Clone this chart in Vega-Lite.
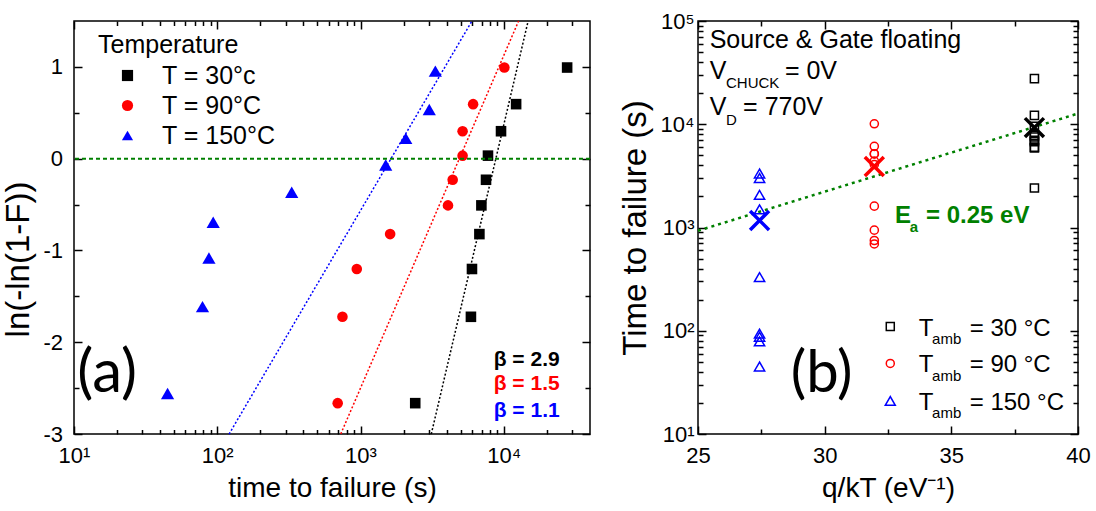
{
  "$schema": "https://vega.github.io/schema/vega-lite/v6.json",
  "padding": {"left": 2, "top": 9, "right": 5, "bottom": 5},
  "background": "white",
  "config": {
    "font": "Liberation Sans",
    "view": {"stroke": "black", "strokeWidth": 1.5},
    "axis": {"domain": false, "grid": false, "tickColor": "black", "tickWidth": 1.5, "labelColor": "black", "labelFont": "Liberation Sans", "labelFontSize": 22, "titleFont": "Liberation Sans", "titleFontSize": 28, "titleFontWeight": "normal", "titleColor": "black", "labelFlush": false, "labelOverlap": false},
    "legend": {"titleFontSize": 25, "titleFontWeight": "normal", "titleColor": "black", "titleFont": "Liberation Sans", "labelFontSize": 25, "labelFont": "Liberation Sans", "labelColor": "black", "symbolSize": 125, "symbolOffset": 17, "labelOffset": 22, "rowPadding": 4, "titlePadding": 5, "symbolStrokeWidth": 0}
  },
  "datasets": {
    "ttf": [
      {"T": "T = 30°c", "q": 38.28, "t": 27700, "w": 0.993},
      {"T": "T = 30°c", "q": 38.28, "t": 12200, "w": 0.594},
      {"T": "T = 30°c", "q": 38.28, "t": 9570, "w": 0.299},
      {"T": "T = 30°c", "q": 38.28, "t": 7760, "w": 0.033},
      {"T": "T = 30°c", "q": 38.28, "t": 7520, "w": -0.230},
      {"T": "T = 30°c", "q": 38.28, "t": 6980, "w": -0.509},
      {"T": "T = 30°c", "q": 38.28, "t": 6760, "w": -0.822},
      {"T": "T = 30°c", "q": 38.28, "t": 6000, "w": -1.202},
      {"T": "T = 30°c", "q": 38.28, "t": 5900, "w": -1.723},
      {"T": "T = 30°c", "q": 38.28, "t": 2410, "w": -2.664},
      {"T": "T = 90°C", "q": 31.96, "t": 10100, "w": 0.993},
      {"T": "T = 90°C", "q": 31.96, "t": 6110, "w": 0.594},
      {"T": "T = 90°C", "q": 31.96, "t": 5160, "w": 0.299},
      {"T": "T = 90°C", "q": 31.96, "t": 5160, "w": 0.033},
      {"T": "T = 90°C", "q": 31.96, "t": 4400, "w": -0.230},
      {"T": "T = 90°C", "q": 31.96, "t": 4080, "w": -0.509},
      {"T": "T = 90°C", "q": 31.96, "t": 1610, "w": -0.822},
      {"T": "T = 90°C", "q": 31.96, "t": 942, "w": -1.202},
      {"T": "T = 90°C", "q": 31.96, "t": 748, "w": -1.723},
      {"T": "T = 90°C", "q": 31.96, "t": 693, "w": -2.664},
      {"T": "T = 150°C", "q": 27.43, "t": 3330, "w": 0.954},
      {"T": "T = 150°C", "q": 27.43, "t": 3020, "w": 0.536},
      {"T": "T = 150°C", "q": 27.43, "t": 2070, "w": 0.221},
      {"T": "T = 150°C", "q": 27.43, "t": 1500, "w": -0.070},
      {"T": "T = 150°C", "q": 27.43, "t": 331, "w": -0.367},
      {"T": "T = 150°C", "q": 27.43, "t": 93.7, "w": -0.693},
      {"T": "T = 150°C", "q": 27.43, "t": 87.5, "w": -1.083},
      {"T": "T = 150°C", "q": 27.43, "t": 78.9, "w": -1.612},
      {"T": "T = 150°C", "q": 27.43, "t": 45, "w": -2.559}
    ],
    "fits": [
      {"T": "T = 30°c", "t": 3120, "w": -3},
      {"T": "T = 30°c", "t": 14800, "w": 1.5},
      {"T": "T = 90°C", "t": 728, "w": -3},
      {"T": "T = 90°C", "t": 12700, "w": 1.5},
      {"T": "T = 150°C", "t": 121, "w": -3},
      {"T": "T = 150°C", "t": 6000, "w": 1.5}
    ],
    "means": [
      {"T": "T = 30°c", "q": 38.28, "t": 9280},
      {"T": "T = 90°C", "q": 31.96, "t": 3900},
      {"T": "T = 150°C", "q": 27.43, "t": 1170}
    ],
    "arr": [
      {"q": 25, "t": 930},
      {"q": 40, "t": 12700}
    ],
    "one": [{}]
  },
  "resolve": {"scale": {"x": "independent", "y": "independent", "color": "independent", "shape": "independent", "stroke": "independent"}},
  "bounds": "flush",
  "spacing": 108,
  "hconcat": [
    {
      "width": 516,
      "height": 413,
      "layer": [
        {
          "data": {"name": "ttf"},
          "transform": [{"filter": "datum.T != 'T = 150°C'"}],
          "mark": {"type": "point", "filled": true, "opacity": 1, "size": 112},
          "encoding": {
            "x": {"field": "t", "type": "quantitative", "scale": {"type": "log", "domain": [10, 40000], "nice": false}, "axis": {"orient": "bottom", "values": [10, 100, 1000, 10000], "tickSize": -8, "labelPadding": 19, "labelExpr": "'10' + (datum.value < 50 ? '¹' : datum.value < 500 ? '²' : datum.value < 5000 ? '³' : '⁴')", "title": "time to failure (s)", "titlePadding": 8}},
            "y": {"field": "w", "type": "quantitative", "scale": {"domain": [-3, 1.5], "nice": false, "zero": false}, "axis": {"orient": "left", "values": [-3,-2,-1,0,1], "tickSize": -8, "labelPadding": 19.5, "labelExpr": "'' + datum.value", "title": "ln(-ln(1-F))", "titleFontSize": 33, "titleY": 238, "titlePadding": 7}},
            "color": {"field": "T", "type": "nominal", "scale": {"domain": ["T = 30°c", "T = 90°C", "T = 150°C"], "range": ["#000000", "#ff0000", "#0000ff"]}, "legend": {"title": "Temperature", "orient": "none", "legendX": 24, "legendY": 12}},
            "shape": {"field": "T", "type": "nominal", "scale": {"domain": ["T = 30°c", "T = 90°C", "T = 150°C"], "range": ["square", "circle", "triangle-up"]}, "legend": {"title": "Temperature", "orient": "none", "legendX": 24, "legendY": 12}}
          }
        },
        {
          "data": {"name": "ttf"},
          "transform": [{"filter": "datum.T == 'T = 150°C'"}],
          "mark": {"type": "point", "filled": true, "opacity": 1, "size": 175},
          "encoding": {
            "x": {"field": "t", "type": "quantitative", "scale": {"type": "log", "domain": [10, 40000], "nice": false}, "axis": null},
            "y": {"field": "w", "type": "quantitative", "scale": {"domain": [-3, 1.5], "nice": false, "zero": false}, "axis": null},
            "color": {"field": "T", "type": "nominal", "scale": {"domain": ["T = 30°c", "T = 90°C", "T = 150°C"], "range": ["#000000", "#ff0000", "#0000ff"]}},
            "shape": {"field": "T", "type": "nominal", "scale": {"domain": ["T = 30°c", "T = 90°C", "T = 150°C"], "range": ["square", "circle", "triangle-up"]}}
          }
        },
        {
          "data": {"name": "fits"},
          "mark": {"type": "line", "strokeDash": [2, 2], "strokeWidth": 1.5},
          "encoding": {
            "x": {"field": "t", "type": "quantitative", "scale": {"type": "log", "domain": [10, 40000], "nice": false}, "axis": {"orient": "bottom", "values": [20,30,40,50,60,70,80,90,200,300,400,500,600,700,800,900,2000,3000,4000,5000,6000,7000,8000,9000,20000,30000], "tickSize": -4.5, "labels": false, "title": null}},
            "y": {"field": "w", "type": "quantitative", "scale": {"domain": [-3, 1.5], "nice": false, "zero": false}, "axis": {"orient": "left", "values": [-2.5,-1.5,-0.5,0.5], "tickSize": -5, "labels": false, "title": null}},
            "stroke": {"field": "T", "type": "nominal", "scale": {"domain": ["T = 30°c", "T = 90°C", "T = 150°C"], "range": ["#000000", "#ff0000", "#0000ff"]}, "legend": null}
          }
        },
        {
          "data": {"name": "one"},
          "mark": {"type": "rule", "color": "#008000", "strokeDash": [4, 3], "strokeWidth": 2},
          "encoding": {
            "y": {"datum": 0, "type": "quantitative", "scale": {"domain": [-3, 1.5], "nice": false, "zero": false}, "axis": {"orient": "right", "values": [-3,-2,-1,0,1], "tickSize": -8, "labels": false, "title": null}}
          }
        },
        {
          "data": {"name": "one"},
          "mark": {"type": "text", "text": "(a)", "font": "Lato", "fontSize": 60, "align": "left", "baseline": "alphabetic", "color": "black"},
          "encoding": {
            "x": {"datum": 10.55, "type": "quantitative", "scale": {"type": "log", "domain": [10, 40000], "nice": false}, "axis": {"orient": "top", "values": [10, 100, 1000, 10000], "tickSize": -8, "labels": false, "title": null}},
            "y": {"datum": -2.54, "type": "quantitative", "scale": {"domain": [-3, 1.5], "nice": false, "zero": false}, "axis": {"orient": "right", "values": [-2.5,-1.5,-0.5,0.5], "tickSize": -5, "labels": false, "title": null}}
          }
        },
        {
          "data": {"name": "one"},
          "mark": {"type": "text", "text": "β = 2.9", "fontSize": 21, "fontWeight": "bold", "align": "left", "baseline": "alphabetic", "color": "black"},
          "encoding": {
            "x": {"datum": 8510, "type": "quantitative", "scale": {"type": "log", "domain": [10, 40000], "nice": false}, "axis": {"orient": "top", "values": [20,30,40,50,60,70,80,90,200,300,400,500,600,700,800,900,2000,3000,4000,5000,6000,7000,8000,9000,20000,30000], "tickSize": -4.5, "labels": false, "title": null}},
            "y": {"datum": -2.26, "type": "quantitative", "scale": {"domain": [-3, 1.5], "nice": false, "zero": false}, "axis": null}
          }
        },
        {
          "data": {"name": "one"},
          "mark": {"type": "text", "text": "β = 1.5", "fontSize": 21, "fontWeight": "bold", "align": "left", "baseline": "alphabetic", "color": "#ff0000"},
          "encoding": {
            "x": {"datum": 8510, "type": "quantitative", "scale": {"type": "log", "domain": [10, 40000], "nice": false}, "axis": null},
            "y": {"datum": -2.52, "type": "quantitative", "scale": {"domain": [-3, 1.5], "nice": false, "zero": false}, "axis": null}
          }
        },
        {
          "data": {"name": "one"},
          "mark": {"type": "text", "text": "β = 1.1", "fontSize": 21, "fontWeight": "bold", "align": "left", "baseline": "alphabetic", "color": "#0000ff"},
          "encoding": {
            "x": {"datum": 8510, "type": "quantitative", "scale": {"type": "log", "domain": [10, 40000], "nice": false}, "axis": null},
            "y": {"datum": -2.81, "type": "quantitative", "scale": {"domain": [-3, 1.5], "nice": false, "zero": false}, "axis": null}
          }
        }
      ]
    },
    {
      "width": 380,
      "height": 413,
      "layer": [
        {
          "data": {"name": "arr"},
          "mark": {"type": "line", "color": "#008000", "strokeDash": [3, 4], "strokeWidth": 2.5},
          "encoding": {
            "x": {"field": "q", "type": "quantitative", "scale": {"domain": [25, 40], "nice": false, "zero": false}, "axis": {"orient": "bottom", "values": [25, 30, 35, 40], "tickSize": -8, "labelPadding": 19, "title": "q/kT (eV⁻¹)", "titlePadding": 8}},
            "y": {"field": "t", "type": "quantitative", "scale": {"type": "log", "domain": [10, 100000], "nice": false}, "axis": {"orient": "left", "values": [10, 100, 1000, 10000, 100000], "tickSize": -8, "labelPadding": 12, "labelExpr": "'10' + ['⁰','¹','²','³','⁴','⁵'][round(log(datum.value)/LN10)]", "title": "Time to failure (s)", "titleFontSize": 33, "titlePadding": 8}}
          }
        },
        {
          "data": {"name": "ttf"},
          "transform": [{"filter": "datum.T != 'T = 150°C'"}],
          "mark": {"type": "point", "filled": false, "opacity": 1, "strokeWidth": 1.5, "size": 66},
          "encoding": {
            "x": {"field": "q", "type": "quantitative", "scale": {"domain": [25, 40], "nice": false, "zero": false}, "axis": {"orient": "bottom", "values": [27.5, 32.5, 37.5], "tickSize": -5, "labels": false, "title": null}},
            "y": {"field": "t", "type": "quantitative", "scale": {"type": "log", "domain": [10, 100000], "nice": false}, "axis": {"orient": "left", "values": [20,30,40,50,60,70,80,90,200,300,400,500,600,700,800,900,2000,3000,4000,5000,6000,7000,8000,9000,20000,30000,40000,50000,60000,70000,80000,90000], "tickSize": -5, "labels": false, "title": null}},
            "color": {"field": "T", "type": "nominal", "scale": {"domain": ["T = 30°c", "T = 90°C", "T = 150°C"], "range": ["#000000", "#ff0000", "#0000ff"]}, "legend": null},
            "shape": {"field": "T", "type": "nominal", "scale": {"domain": ["T = 30°c", "T = 90°C", "T = 150°C"], "range": ["square", "circle", "triangle-up"]}, "legend": null}
          }
        },
        {
          "data": {"name": "ttf"},
          "transform": [{"filter": "datum.T == 'T = 150°C'"}],
          "mark": {"type": "point", "filled": false, "opacity": 1, "strokeWidth": 1.5, "size": 105, "shape": "triangle-up", "color": "#0000ff"},
          "encoding": {
            "x": {"field": "q", "type": "quantitative", "scale": {"domain": [25, 40], "nice": false, "zero": false}, "axis": null},
            "y": {"field": "t", "type": "quantitative", "scale": {"type": "log", "domain": [10, 100000], "nice": false}, "axis": null}
          }
        },
        {
          "data": {"name": "means"},
          "mark": {"type": "point", "filled": false, "opacity": 1, "shape": "M-1,-1L1,1M-1,1L1,-1", "size": 360, "strokeWidth": 3.5},
          "encoding": {
            "x": {"field": "q", "type": "quantitative", "scale": {"domain": [25, 40], "nice": false, "zero": false}, "axis": {"orient": "top", "values": [25, 30, 35, 40], "tickSize": -8, "labels": false, "title": null}},
            "y": {"field": "t", "type": "quantitative", "scale": {"type": "log", "domain": [10, 100000], "nice": false}, "axis": {"orient": "right", "values": [10, 100, 1000, 10000, 100000], "tickSize": -8, "labels": false, "title": null}},
            "color": {"field": "T", "type": "nominal", "scale": {"domain": ["T = 30°c", "T = 90°C", "T = 150°C"], "range": ["#000000", "#ff0000", "#0000ff"]}, "legend": null}
          }
        },
        {
          "data": {"name": "one"},
          "mark": {"type": "text", "text": "Source & Gate floating", "fontSize": 25, "align": "left", "baseline": "alphabetic", "color": "black"},
          "encoding": {
            "x": {"datum": 25.46, "type": "quantitative", "scale": {"domain": [25, 40], "nice": false, "zero": false}, "axis": {"orient": "top", "values": [27.5, 32.5, 37.5], "tickSize": -5, "labels": false, "title": null}},
            "y": {"datum": 54500, "type": "quantitative", "scale": {"type": "log", "domain": [10, 100000], "nice": false}, "axis": {"orient": "right", "values": [20,30,40,50,60,70,80,90,200,300,400,500,600,700,800,900,2000,3000,4000,5000,6000,7000,8000,9000,20000,30000,40000,50000,60000,70000,80000,90000], "tickSize": -5, "labels": false, "title": null}}
          }
        },
        {"data": {"name": "one"}, "mark": {"type": "text", "text": "V", "fontSize": 25, "align": "left", "baseline": "alphabetic", "color": "black"},
         "encoding": {"x": {"datum": 25.46, "type": "quantitative", "axis": null}, "y": {"datum": 27500, "type": "quantitative", "axis": null}}},
        {"data": {"name": "one"}, "mark": {"type": "text", "text": "CHUCK", "fontSize": 15, "align": "left", "baseline": "alphabetic", "color": "black"},
         "encoding": {"x": {"datum": 26.105, "type": "quantitative", "axis": null}, "y": {"datum": 22300, "type": "quantitative", "axis": null}}},
        {"data": {"name": "one"}, "mark": {"type": "text", "text": "= 0V", "fontSize": 25, "align": "left", "baseline": "alphabetic", "color": "black"},
         "encoding": {"x": {"datum": 28.43, "type": "quantitative", "axis": null}, "y": {"datum": 27500, "type": "quantitative", "axis": null}}},
        {"data": {"name": "one"}, "mark": {"type": "text", "text": "V", "fontSize": 25, "align": "left", "baseline": "alphabetic", "color": "black"},
         "encoding": {"x": {"datum": 25.46, "type": "quantitative", "axis": null}, "y": {"datum": 12330, "type": "quantitative", "axis": null}}},
        {"data": {"name": "one"}, "mark": {"type": "text", "text": "D", "fontSize": 15, "align": "left", "baseline": "alphabetic", "color": "black"},
         "encoding": {"x": {"datum": 26.105, "type": "quantitative", "axis": null}, "y": {"datum": 9860, "type": "quantitative", "axis": null}}},
        {"data": {"name": "one"}, "mark": {"type": "text", "text": "= 770V", "fontSize": 25, "align": "left", "baseline": "alphabetic", "color": "black"},
         "encoding": {"x": {"datum": 26.78, "type": "quantitative", "axis": null}, "y": {"datum": 12330, "type": "quantitative", "axis": null}}},
        {"data": {"name": "one"}, "mark": {"type": "text", "text": "E", "fontSize": 24, "fontWeight": "bold", "align": "left", "baseline": "alphabetic", "color": "#008000"},
         "encoding": {"x": {"datum": 32.78, "type": "quantitative", "axis": null}, "y": {"datum": 1100, "type": "quantitative", "axis": null}}},
        {"data": {"name": "one"}, "mark": {"type": "text", "text": "a", "fontSize": 15, "fontWeight": "bold", "align": "left", "baseline": "alphabetic", "color": "#008000"},
         "encoding": {"x": {"datum": 33.357, "type": "quantitative", "axis": null}, "y": {"datum": 912, "type": "quantitative", "axis": null}}},
        {"data": {"name": "one"}, "mark": {"type": "text", "text": "= 0.25 eV", "fontSize": 24, "fontWeight": "bold", "align": "left", "baseline": "alphabetic", "color": "#008000"},
         "encoding": {"x": {"datum": 34.0, "type": "quantitative", "axis": null}, "y": {"datum": 1100, "type": "quantitative", "axis": null}}},
        {"data": {"name": "one"}, "mark": {"type": "text", "text": "(b)", "font": "Lato", "fontSize": 58, "align": "left", "baseline": "alphabetic", "color": "black"},
         "encoding": {"x": {"datum": 28.66, "type": "quantitative", "axis": null}, "y": {"datum": 25.7, "type": "quantitative", "axis": null}}},
        {"data": {"name": "one"}, "mark": {"type": "point", "shape": "square", "size": 64, "filled": false, "opacity": 1, "strokeWidth": 1.5, "color": "#000000"},
         "encoding": {"x": {"datum": 32.59, "type": "quantitative", "axis": null}, "y": {"datum": 109.7, "type": "quantitative", "axis": null}}},
        {"data": {"name": "one"}, "mark": {"type": "point", "shape": "circle", "size": 64, "filled": false, "opacity": 1, "strokeWidth": 1.5, "color": "#ff0000"},
         "encoding": {"x": {"datum": 32.59, "type": "quantitative", "axis": null}, "y": {"datum": 48.3, "type": "quantitative", "axis": null}}},
        {"data": {"name": "one"}, "mark": {"type": "point", "shape": "triangle-up", "size": 100, "filled": false, "opacity": 1, "strokeWidth": 1.5, "color": "#0000ff"},
         "encoding": {"x": {"datum": 32.59, "type": "quantitative", "axis": null}, "y": {"datum": 20.9, "type": "quantitative", "axis": null}}},
        {"data": {"name": "one"}, "mark": {"type": "text", "text": "T", "fontSize": 24, "align": "left", "baseline": "alphabetic", "color": "black"},
         "encoding": {"x": {"datum": 33.71, "type": "quantitative", "axis": null}, "y": {"datum": 89.7, "type": "quantitative", "axis": null}}},
        {"data": {"name": "one"}, "mark": {"type": "text", "text": "amb", "fontSize": 15, "align": "left", "baseline": "alphabetic", "color": "black"},
         "encoding": {"x": {"datum": 34.24, "type": "quantitative", "axis": null}, "y": {"datum": 73.8, "type": "quantitative", "axis": null}}},
        {"data": {"name": "one"}, "mark": {"type": "text", "text": "= 30 °C", "fontSize": 24, "align": "left", "baseline": "alphabetic", "color": "black"},
         "encoding": {"x": {"datum": 35.725, "type": "quantitative", "axis": null}, "y": {"datum": 89.7, "type": "quantitative", "axis": null}}},
        {"data": {"name": "one"}, "mark": {"type": "text", "text": "T", "fontSize": 24, "align": "left", "baseline": "alphabetic", "color": "black"},
         "encoding": {"x": {"datum": 33.71, "type": "quantitative", "axis": null}, "y": {"datum": 39.5, "type": "quantitative", "axis": null}}},
        {"data": {"name": "one"}, "mark": {"type": "text", "text": "amb", "fontSize": 15, "align": "left", "baseline": "alphabetic", "color": "black"},
         "encoding": {"x": {"datum": 34.24, "type": "quantitative", "axis": null}, "y": {"datum": 32.6, "type": "quantitative", "axis": null}}},
        {"data": {"name": "one"}, "mark": {"type": "text", "text": "= 90 °C", "fontSize": 24, "align": "left", "baseline": "alphabetic", "color": "black"},
         "encoding": {"x": {"datum": 35.725, "type": "quantitative", "axis": null}, "y": {"datum": 39.5, "type": "quantitative", "axis": null}}},
        {"data": {"name": "one"}, "mark": {"type": "text", "text": "T", "fontSize": 24, "align": "left", "baseline": "alphabetic", "color": "black"},
         "encoding": {"x": {"datum": 33.71, "type": "quantitative", "axis": null}, "y": {"datum": 17.1, "type": "quantitative", "axis": null}}},
        {"data": {"name": "one"}, "mark": {"type": "text", "text": "amb", "fontSize": 15, "align": "left", "baseline": "alphabetic", "color": "black"},
         "encoding": {"x": {"datum": 34.24, "type": "quantitative", "axis": null}, "y": {"datum": 14.4, "type": "quantitative", "axis": null}}},
        {"data": {"name": "one"}, "mark": {"type": "text", "text": "= 150 °C", "fontSize": 24, "align": "left", "baseline": "alphabetic", "color": "black"},
         "encoding": {"x": {"datum": 35.725, "type": "quantitative", "axis": null}, "y": {"datum": 17.1, "type": "quantitative", "axis": null}}}
      ]
    }
  ]
}
